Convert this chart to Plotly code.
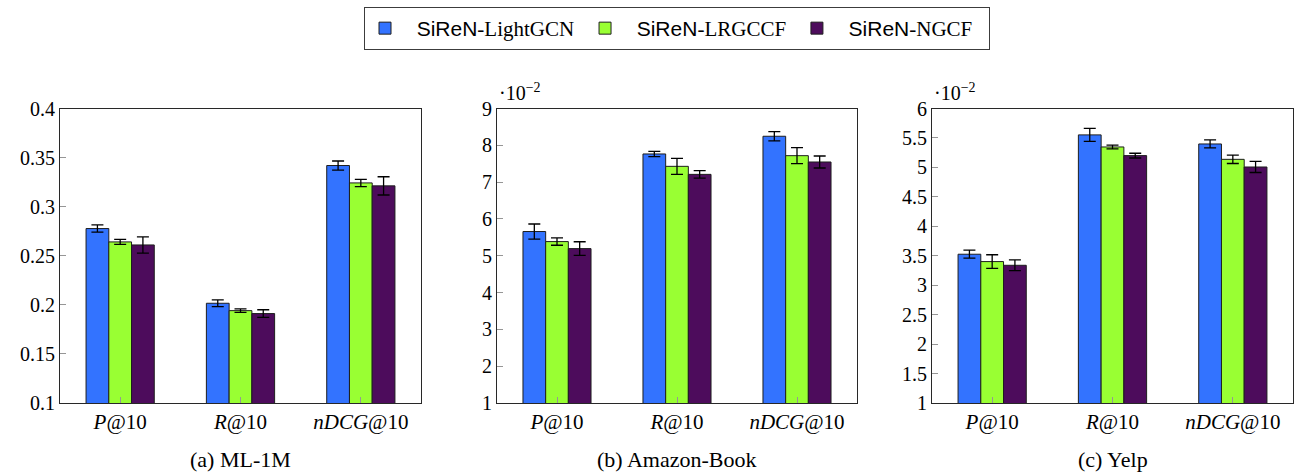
import plotly.graph_objects as go

W, H = 1294, 472

categories = ["<i>P</i>@10", "<i>R</i>@10", "<i>nDCG</i>@10"]
series_names = ["SiReN-LightGCN", "SiReN-LRGCCF", "SiReN-NGCF"]
series_colors = ["rgb(51,115,255)", "rgb(153,255,51)", "rgb(77,12,92)"]

# ML-1M
ml_vals = [[0.2777, 0.2016, 0.3419], [0.2641, 0.1941, 0.3242], [0.2610, 0.1911, 0.3212]]
ml_errs = [[0.0037, 0.0034, 0.0046], [0.0025, 0.0017, 0.0037], [0.0083, 0.0039, 0.0093]]
# Amazon-Book (x 10^-2)
ab_vals = [[5.658, 7.765, 8.246], [5.385, 7.429, 7.719], [5.194, 7.211, 7.547]]
ab_errs = [[0.204, 0.073, 0.127], [0.100, 0.218, 0.218], [0.186, 0.104, 0.163]]
# Yelp (x 10^-2)
yp_vals = [[3.526, 5.552, 5.398], [3.401, 5.347, 5.137], [3.338, 5.200, 5.007]]
yp_errs = [[0.068, 0.111, 0.068], [0.116, 0.031, 0.071], [0.091, 0.040, 0.094]]

panels = [
    dict(vals=ml_vals, errs=ml_errs, rng=[0.1, 0.4], tickvals=[0.1, 0.15, 0.2, 0.25, 0.3, 0.35, 0.4],
         ticktext=["0.1", "0.15", "0.2", "0.25", "0.3", "0.35", "0.4"], caption="(a) ML-1M", x0=60, x1=421, scale=False),
    dict(vals=ab_vals, errs=ab_errs, rng=[1, 9], tickvals=[1, 2, 3, 4, 5, 6, 7, 8, 9],
         ticktext=[str(v) for v in range(1, 10)], caption="(b) Amazon-Book", x0=497, x1=857, scale=True),
    dict(vals=yp_vals, errs=yp_errs, rng=[1, 6], tickvals=[1, 1.5, 2, 2.5, 3, 3.5, 4, 4.5, 5, 5.5, 6],
         ticktext=["1", "1.5", "2", "2.5", "3", "3.5", "4", "4.5", "5", "5.5", "6"], caption="(c) Yelp", x0=932, x1=1293, scale=True),
]

ytop, ybot = 108.5, 403
serif = "Liberation Serif"
NB = "&nbsp;"

fig = go.Figure()
annotations = []
for p_i, p in enumerate(panels):
    ax = "" if p_i == 0 else str(p_i + 1)
    for s_i in range(3):
        nm = series_names[s_i]
        head, tail = nm.split("-", 1)
        trail = NB * (2 if s_i == 2 else 1)
        label = NB * 2 + head + "<span style='font-family:Liberation Serif'>-" + tail + "</span>" + trail
        fig.add_trace(go.Bar(
            x=categories, y=p["vals"][s_i], name=label,
            marker=dict(color=series_colors[s_i], line=dict(color="rgb(30,30,30)", width=1)),
            error_y=dict(type="data", array=p["errs"][s_i], color="black", thickness=1.3, width=6),
            xaxis="x" + ax, yaxis="y" + ax, showlegend=(p_i == 0),
        ))
    xd = [p["x0"] / W, p["x1"] / W]
    yd = [1 - ybot / H, 1 - ytop / H]
    fig.layout["xaxis" + ax] = dict(
        domain=xd, anchor="y" + ax, range=[-0.5, 2.5], showline=True, linecolor="rgb(40,40,40)", linewidth=1.2,
        mirror=True, ticks="inside", ticklen=6, tickcolor="rgb(150,150,150)", showgrid=False,
        tickfont=dict(family=serif, size=21, color="black"), zeroline=False, fixedrange=True, automargin=False,
    )
    fig.layout["yaxis" + ax] = dict(
        domain=yd, anchor="x" + ax, range=p["rng"], showline=True, linecolor="rgb(40,40,40)", linewidth=1.2,
        mirror=True, ticks="inside", ticklen=6, tickcolor="rgb(150,150,150)", showgrid=False,
        tickvals=p["tickvals"], ticktext=p["ticktext"], tickfont=dict(family=serif, size=20, color="black"),
        zeroline=False, fixedrange=True, automargin=False,
    )
    annotations.append(dict(
        text=p["caption"], x=(p["x0"] + p["x1"]) / 2 / W, y=1 - 459 / H, xref="paper", yref="paper",
        showarrow=False, font=dict(family=serif, size=22, color="black"), xanchor="center", yanchor="middle",
    ))
    if p["scale"]:
        annotations.append(dict(
            text="·10<sup>−2</sup>", x=(p["x0"] + 0) / W, y=1 - 106 / H, xref="paper", yref="paper",
            showarrow=False, font=dict(family=serif, size=20, color="black"), xanchor="left", yanchor="bottom",
        ))

fig.update_layout(
    width=W, height=H, margin=dict(l=0, r=0, t=0, b=0, autoexpand=False),
    paper_bgcolor="white", plot_bgcolor="white",
    barmode="group", bargap=0.433, bargroupgap=0,
    annotations=annotations,
    legend=dict(orientation="h", x=677 / W, xanchor="center", y=1 - 7 / H, yanchor="top",
                xref="container", yref="container",
                bordercolor="rgb(60,60,60)", borderwidth=1, bgcolor="white",
                font=dict(family="Liberation Sans", size=21, color="black"),
                itemwidth=30, tracegroupgap=0),
)
fig.write_html("out.html", config={"displayModeBar": False},
               post_script="document.body.style.margin='0';document.body.style.padding='0';")
